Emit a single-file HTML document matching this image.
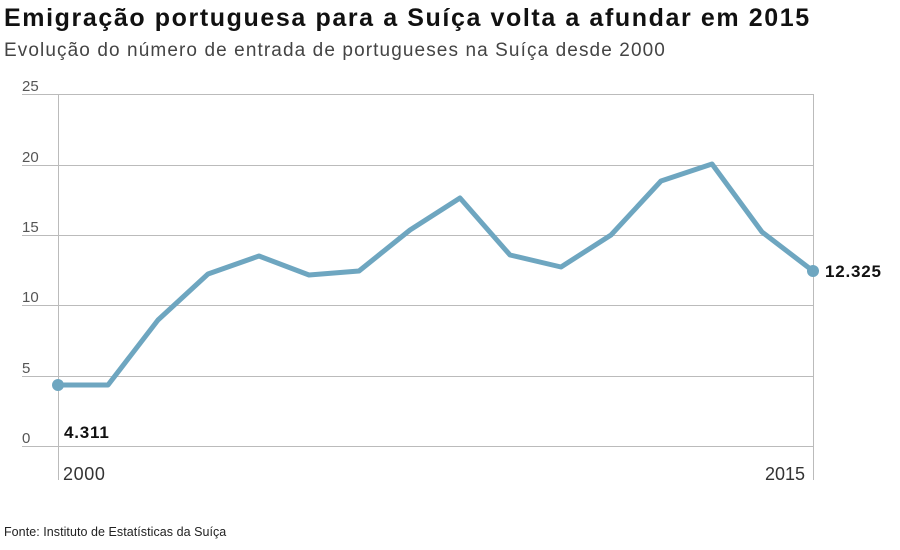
<!DOCTYPE html>
<html><head><meta charset="utf-8"><style>
body{margin:0;background:#fff;width:900px;height:545px;overflow:hidden;font-family:"Liberation Sans",sans-serif}
</style></head><body>
<svg width="900" height="545" xmlns="http://www.w3.org/2000/svg" font-family="Liberation Sans, sans-serif">
<text x="4" y="26" font-size="25" font-weight="bold" fill="#111" letter-spacing="1.6">Emigração portuguesa para a Suíça volta a afundar em 2015</text>
<text x="4" y="56" font-size="19" fill="#444" letter-spacing="1.1">Evolução do número de entrada de portugueses na Suíça desde 2000</text>
<g stroke="#bbb" stroke-width="1">
<line x1="22" x2="813" y1="94.5" y2="94.5"/>
<line x1="22" x2="813" y1="165.5" y2="165.5"/>
<line x1="22" x2="813" y1="235.5" y2="235.5"/>
<line x1="22" x2="813" y1="305.5" y2="305.5"/>
<line x1="22" x2="813" y1="376.5" y2="376.5"/>
<line x1="22" x2="813" y1="446.5" y2="446.5"/>
<line x1="58.5" x2="58.5" y1="94" y2="480"/>
<line x1="813.5" x2="813.5" y1="94" y2="480"/>
</g>
<g font-size="15" fill="#555">
<text x="22" y="91">25</text><text x="22" y="162">20</text><text x="22" y="232">15</text>
<text x="22" y="302">10</text><text x="22" y="373">5</text><text x="22" y="443">0</text>
</g>
<polyline fill="none" stroke="#6ea6c0" stroke-width="5" stroke-linejoin="round" points="58,385 108,385 158,320 208,274 259,256 309,275 359,271 410,230 460,198 510,255 561,267 611,235 661,181 712,164 762,232 813,271"/>
<circle cx="58" cy="385" r="6" fill="#6ea6c0"/>
<circle cx="813" cy="271" r="6" fill="#6ea6c0"/>
<text x="64" y="438" font-size="17" font-weight="bold" fill="#111" letter-spacing="0.8">4.311</text>
<text x="825" y="277" font-size="17" font-weight="bold" fill="#111" letter-spacing="0.8">12.325</text>
<text x="63" y="480" font-size="18" fill="#333" letter-spacing="0.6">2000</text>
<text x="765" y="480" font-size="18" fill="#333">2015</text>
<text x="4" y="536" font-size="12.5" fill="#222" letter-spacing="0.05">Fonte: Instituto de Estatísticas da Suíça</text>
</svg>
</body></html>
